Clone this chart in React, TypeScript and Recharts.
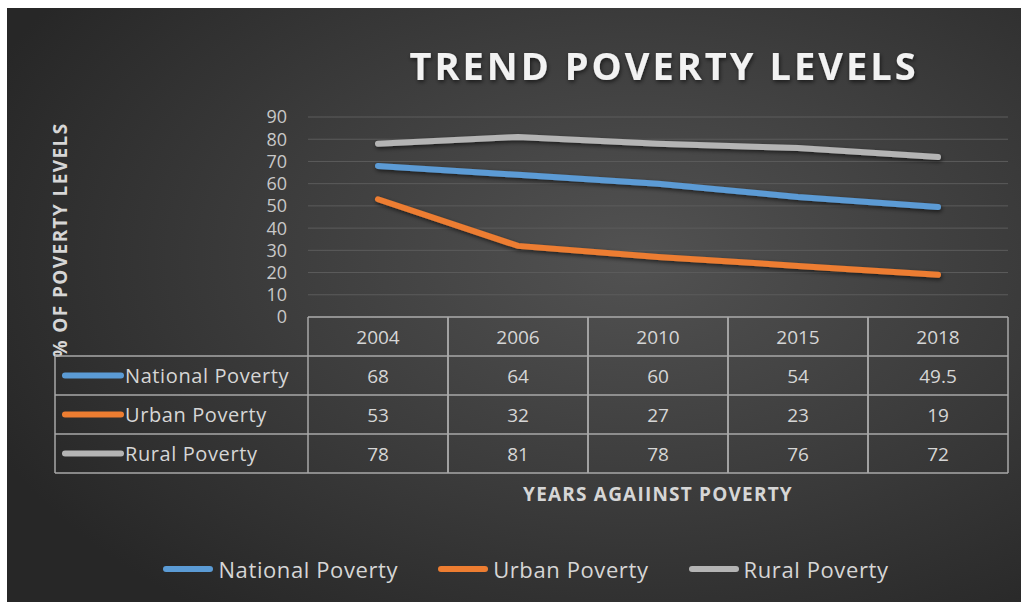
import { LineChart, Line, XAxis, YAxis, CartesianGrid, Legend } from "recharts";

const years = ["2004", "2006", "2010", "2015", "2018"];
const nationalPoverty = [68, 64, 60, 54, 49.5];
const urbanPoverty = [53, 32, 27, 23, 19];
const ruralPoverty = [78, 81, 78, 76, 72];
const yTicks = [0, 10, 20, 30, 40, 50, 60, 70, 80, 90];

const series = [
  { key: "national", name: "National Poverty", color: "#5B9BD5", values: nationalPoverty },
  { key: "urban", name: "Urban Poverty", color: "#ED7D31", values: urbanPoverty },
  { key: "rural", name: "Rural Poverty", color: "#B4B4B4", values: ruralPoverty },
];

const data = years.map((year, i) => ({
  year,
  national: nationalPoverty[i],
  urban: urbanPoverty[i],
  rural: ruralPoverty[i],
}));

const W = 1014;
const H = 594;
const FONT = "'Open Sans', sans-serif";
const TEXT = "#d6d6d6";
const BORDER = "#a8a8a8";
const PLOT_LEFT = 301;
const PLOT_RIGHT = 1001;
const TABLE_LEFT = 48;
const ROW_H = 39;
const BAND = (PLOT_RIGHT - PLOT_LEFT) / years.length;

// data table drawn as the x-axis ticks, one column per category
function TableTick(props: any) {
  const { x, y, payload, index } = props;
  const left = x - BAND / 2;
  const right = x + BAND / 2;
  const bottom = y + ROW_H * 4;
  return (
    <g fontFamily={FONT}>
      {[0, 1, 2, 3, 4].map((r) => (
        <line key={r} x1={left} x2={right} y1={y + r * ROW_H} y2={y + r * ROW_H} stroke={BORDER} strokeWidth={1.5} />
      ))}
      <line x1={left} x2={left} y1={y} y2={bottom} stroke={BORDER} strokeWidth={1.5} />
      <line x1={right} x2={right} y1={y} y2={bottom} stroke={BORDER} strokeWidth={1.5} />
      <text x={x} y={y + ROW_H / 2} textAnchor="middle" dominantBaseline="central" fill={TEXT} fontSize={19}>
        {payload.value}
      </text>
      {series.map((s, r) => (
        <text key={s.key} x={x} y={y + ROW_H * (r + 1.5)} textAnchor="middle" dominantBaseline="central" fill={TEXT} fontSize={19}>
          {s.values[index]}
        </text>
      ))}
      {index === 0 && (
        <g>
          {[1, 2, 3, 4].map((r) => (
            <line key={r} x1={TABLE_LEFT} x2={left} y1={y + r * ROW_H} y2={y + r * ROW_H} stroke={BORDER} strokeWidth={1.5} />
          ))}
          <line x1={TABLE_LEFT} x2={TABLE_LEFT} y1={y + ROW_H} y2={bottom} stroke={BORDER} strokeWidth={1.5} />
          {series.map((s, r) => (
            <g key={s.key}>
              <line
                x1={TABLE_LEFT + 10}
                x2={TABLE_LEFT + 66}
                y1={y + ROW_H * (r + 1.5)}
                y2={y + ROW_H * (r + 1.5)}
                stroke={s.color}
                strokeWidth={6}
                strokeLinecap="round"
              />
              <text
                x={TABLE_LEFT + 70}
                y={y + ROW_H * (r + 1.5)}
                dominantBaseline="central"
                fill={TEXT}
                fontSize={20}
                letterSpacing={0.6}
              >
                {s.name}
              </text>
            </g>
          ))}
        </g>
      )}
      {index === 2 && (
        <text
          x={x}
          y={y + ROW_H * 4 + 21}
          textAnchor="middle"
          dominantBaseline="central"
          fill={TEXT}
          fontSize={19}
          fontWeight={700}
          letterSpacing={1.2}
        >
          YEARS AGAIINST POVERTY
        </text>
      )}
    </g>
  );
}

function LegendContent() {
  return (
    <div
      style={{
        display: "flex",
        justifyContent: "center",
        gap: 40,
        fontFamily: FONT,
        fontSize: 22,
        letterSpacing: 0.6,
        color: TEXT,
        paddingLeft: 24,
      }}
    >
      {series.map((s) => (
        <div key={s.key} style={{ display: "flex", alignItems: "center" }}>
          <span style={{ display: "inline-block", width: 50, height: 6, borderRadius: 3, background: s.color, marginRight: 5 }} />
          {s.name}
        </div>
      ))}
    </div>
  );
}

export default function App() {
  return (
    <div
      style={{
        position: "absolute",
        left: 7,
        top: 8,
        width: W,
        height: H,
        background: "radial-gradient(ellipse 70% 75% at 62% 42%, #525252 0%, #3d3d3d 50%, #272727 100%)",
      }}
    >
      <LineChart
        width={W}
        height={H}
        data={data}
        margin={{ top: 109, right: W - PLOT_RIGHT, left: PLOT_LEFT - 60, bottom: 85 }}
      >
        <defs>
          <filter id="shadow" x="-10%" y="-50%" width="120%" height="200%">
            <feDropShadow dx="1" dy="2" stdDeviation="2" floodColor="#000" floodOpacity="0.6" />
          </filter>
        </defs>
        <text
          x={657}
          y={72}
          textAnchor="middle"
          fill="#f2f2f2"
          fontFamily={FONT}
          fontSize={38}
          fontWeight={700}
          letterSpacing={3}
          filter="url(#shadow)"
        >
          TREND POVERTY LEVELS
        </text>
        <text
          x={53}
          y={232}
          transform="rotate(-90 53 232)"
          textAnchor="middle"
          dominantBaseline="central"
          fill={TEXT}
          fontFamily={FONT}
          fontSize={19}
          fontWeight={700}
          letterSpacing={1.4}
        >
          % OF POVERTY LEVELS
        </text>
        <CartesianGrid vertical={false} stroke="#5c5c5c" strokeWidth={1} />
        <XAxis
          dataKey="year"
          height={200}
          axisLine={false}
          tickLine={false}
          tickSize={0}
          tickMargin={0}
          interval={0}
          padding={{ left: BAND / 2, right: BAND / 2 }}
          tick={<TableTick />}
        />
        <YAxis
          width={60}
          domain={[0, 90]}
          ticks={yTicks}
          interval={0}
          axisLine={false}
          tickLine={false}
          tickMargin={15}
          tick={{ fill: "#c8c8c8", fontSize: 18, fontFamily: FONT }}
        />
        {series.map((s) => (
          <Line
            key={s.key}
            dataKey={s.key}
            name={s.name}
            type="linear"
            stroke={s.color}
            strokeWidth={6}
            strokeLinecap="round"
            dot={false}
            activeDot={false}
            filter="url(#shadow)"
            isAnimationActive={false}
          />
        ))}
        <Legend
          verticalAlign="middle"
          align="center"
          layout="horizontal"
          wrapperStyle={{ top: 546, left: 0, width: W }}
          content={<LegendContent />}
        />
      </LineChart>
    </div>
  );
}
